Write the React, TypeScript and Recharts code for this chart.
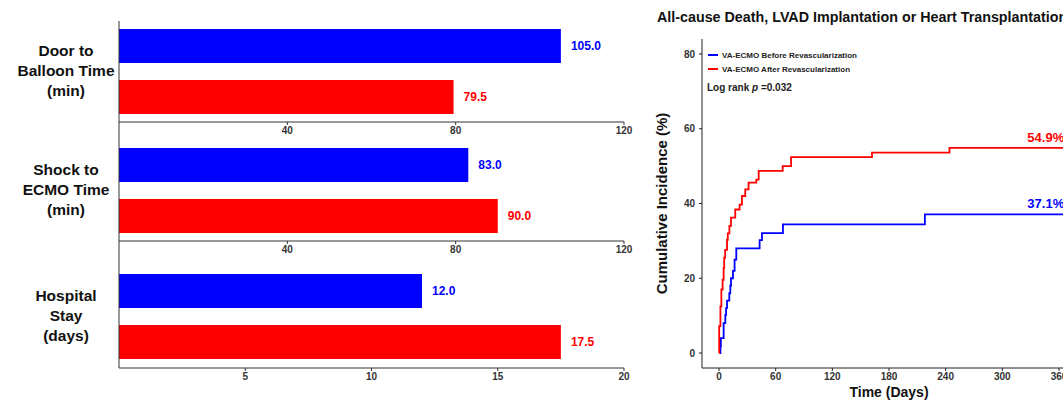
import React from "react";
import {
  BarChart, Bar, XAxis, YAxis, LabelList, LineChart, Line, Legend, ReferenceDot,
} from "recharts";

const BLUE = "#0000FF";
const RED = "#FF0000";
const FONT = '"Liberation Sans", Arial, Helvetica, sans-serif';

// left: three bar panels
const categories = ["Door to\nBalloon Time\n(min)", "Shock to\nECMO Time\n(min)", "Hospital\nStay\n(days)"];
const beforeRevasc = [105.0, 83.0, 12.0];
const afterRevasc = [79.5, 90.0, 17.5];
const barMax = [120, 120, 20];
const barTicks = [[40, 80, 120], [40, 80, 120], [5, 10, 15, 20]];

// right: cumulative incidence (step curves)
const blueDays = [0, 1.5, 2, 4.9, 6.7, 7.5, 8.5, 10.9, 12, 12.7, 14.8, 16.5, 18.3, 43, 45.5, 67.7, 218, 376];
const blueIncidence = [0, 1.8, 4.0, 8.0, 10.2, 12.0, 14.0, 16.0, 18.0, 20.0, 22.0, 25.0, 28.0, 30.2, 32.1, 34.4, 37.1, 37.1];
const redDays = [0, 0.2, 1.5, 2.5, 3.8, 4.9, 5.5, 6.5, 8.5, 9.3, 11, 12.7, 17.2, 21.8, 24.3, 27.8, 31.3, 39.5, 42, 67.4, 76.3, 162, 244, 376];
const redIncidence = [0, 7.2, 12.5, 17.0, 19.6, 22.8, 25.5, 27.6, 30.3, 32.0, 34.0, 36.2, 38.4, 39.7, 42.0, 43.8, 45.6, 46.4, 48.7, 50.0, 52.4, 53.6, 54.9, 54.9];
const timeTicks = [0, 60, 120, 180, 240, 300, 360];
const incidenceTicks = [0, 20, 40, 60, 80];
const seriesNames = ["VA-ECMO Before Revascularization", "VA-ECMO After Revascularization"];

const blueData = blueDays.map((d, i) => ({ day: d, value: blueIncidence[i] }));
const redData = redDays.map((d, i) => ({ day: d, value: redIncidence[i] }));

// stacked panel geometry
const panels = [
  { top: 0, marginTop: 21, plotH: 101, padTop: 8, padBottom: 9 },
  { top: 122, marginTop: 0, plotH: 119, padTop: 26, padBottom: 9 },
  { top: 241, marginTop: 0, plotH: 127, padTop: 33, padBottom: 9 },
];

const tickStyle = { fontSize: 10, fontWeight: "bold", fill: "#333", fontFamily: FONT };

function CategoryTick({ y, payload }: any) {
  const lines = String(payload.value).split("\n");
  return (
    <text x={66} y={y - 1} textAnchor="middle" fontFamily={FONT} fontWeight="bold" fontSize={15.5} fill="#111">
      {lines.map((l, i) => (
        <tspan key={i} x={66} dy={i === 0 ? -(lines.length - 1) * 10 + 5.5 : 20}>{l}</tspan>
      ))}
    </text>
  );
}

function KmLegend({ payload }: any) {
  return (
    <div style={{ fontFamily: FONT, color: "#222" }}>
      {(payload || []).map((e: any) => (
        <div key={e.value} style={{ display: "flex", alignItems: "center", height: 14, fontSize: 8, fontWeight: "bold" }}>
          <span style={{ display: "inline-block", width: 10, height: 2, background: e.color, marginRight: 4 }} />
          {e.value}
        </div>
      ))}
      <div style={{ fontSize: 10, fontWeight: "bold", marginTop: 6, marginLeft: -1 }}>
        Log rank <i>p</i> =0.032
      </div>
    </div>
  );
}

export default function App() {
  return (
    <div style={{ position: "fixed", left: 0, top: 0, width: 1063, height: 400, overflow: "hidden", background: "#fff", fontFamily: FONT }}>
      {panels.map((p, i) => (
        <div key={i} style={{ position: "absolute", left: 0, top: p.top }}>
          <BarChart
            layout="vertical"
            width={640}
            height={p.marginTop + p.plotH + 20}
            data={[{ name: categories[i], before: beforeRevasc[i], after: afterRevasc[i] }]}
            margin={{ top: p.marginTop, right: 16, bottom: 0, left: 0 }}
            barCategoryGap={0}
            barGap={17}
          >
            <XAxis type="number" domain={[0, barMax[i]]} ticks={barTicks[i]} interval={0} height={20}
              tickSize={3} tickMargin={2} axisLine={{ stroke: "#333" }} tickLine={{ stroke: "#333" }} tick={tickStyle} />
            <YAxis type="category" dataKey="name" width={119} tickLine={false} axisLine={{ stroke: "#333" }}
              tick={<CategoryTick />} padding={{ top: p.padTop, bottom: p.padBottom }} />
            <Bar dataKey="before" fill={BLUE} isAnimationActive={false}>
              <LabelList dataKey="before" position="right" offset={10} formatter={(v: any) => Number(v).toFixed(1)}
                fill={BLUE} fontSize={12} fontWeight="bold" fontFamily={FONT} />
            </Bar>
            <Bar dataKey="after" fill={RED} isAnimationActive={false}>
              <LabelList dataKey="after" position="right" offset={10} formatter={(v: any) => Number(v).toFixed(1)}
                fill={RED} fontSize={12} fontWeight="bold" fontFamily={FONT} />
            </Bar>
          </BarChart>
        </div>
      ))}

      <div style={{ position: "absolute", left: 657, top: 9, fontSize: 14.3, lineHeight: "16px", fontWeight: "bold", color: "#111", whiteSpace: "nowrap" }}>
        All-cause Death, LVAD Implantation or Heart Transplantation
      </div>

      <div style={{ position: "absolute", left: 640, top: 0 }}>
        <LineChart width={436} height={400} margin={{ top: 39, right: 0, bottom: 0, left: 0 }}>
          <XAxis type="number" dataKey="day" domain={[-18, 378]} ticks={timeTicks} interval={0} allowDataOverflow
            height={32} tickSize={3} tickMargin={2} axisLine={{ stroke: "#222" }} tickLine={{ stroke: "#222" }}
            tick={tickStyle}
            label={{ value: "Time (Days)", position: "insideBottom", offset: 3, fontSize: 14, fontWeight: "bold", fill: "#111", fontFamily: FONT }} />
          <YAxis type="number" domain={[-4, 84]} ticks={incidenceTicks} interval={0} allowDataOverflow width={62}
            tickSize={3} tickMargin={4} axisLine={{ stroke: "#222" }} tickLine={{ stroke: "#222" }}
            tick={tickStyle}
            label={{ value: "Cumulative Incidence (%)", angle: -90, position: "insideLeft", offset: 22,
              style: { textAnchor: "middle" }, fontSize: 15, fontWeight: "bold", fill: "#111", fontFamily: FONT }} />
          <Legend layout="vertical" align="center" verticalAlign="middle" content={<KmLegend />}
            itemSorter={(item: any) => seriesNames.indexOf(item.value)}
            wrapperStyle={{ left: 68, top: 48, width: 200 }} />
          <Line data={blueData} dataKey="value" name={seriesNames[0]} type="stepAfter" stroke={BLUE} strokeWidth={1.8}
            dot={false} activeDot={false} isAnimationActive={false} />
          <Line data={redData} dataKey="value" name={seriesNames[1]} type="stepAfter" stroke={RED} strokeWidth={1.8}
            dot={false} activeDot={false} isAnimationActive={false} />
          <ReferenceDot x={346} y={redIncidence[redIncidence.length - 1]} r={0} fill="none" stroke="none"
            label={{ value: "54.9%", position: "top", offset: 6, fill: RED, fontSize: 13, fontWeight: "bold", fontFamily: FONT }} />
          <ReferenceDot x={346} y={blueIncidence[blueIncidence.length - 1]} r={0} fill="none" stroke="none"
            label={{ value: "37.1%", position: "top", offset: 6, fill: BLUE, fontSize: 13, fontWeight: "bold", fontFamily: FONT }} />
        </LineChart>
      </div>
    </div>
  );
}
